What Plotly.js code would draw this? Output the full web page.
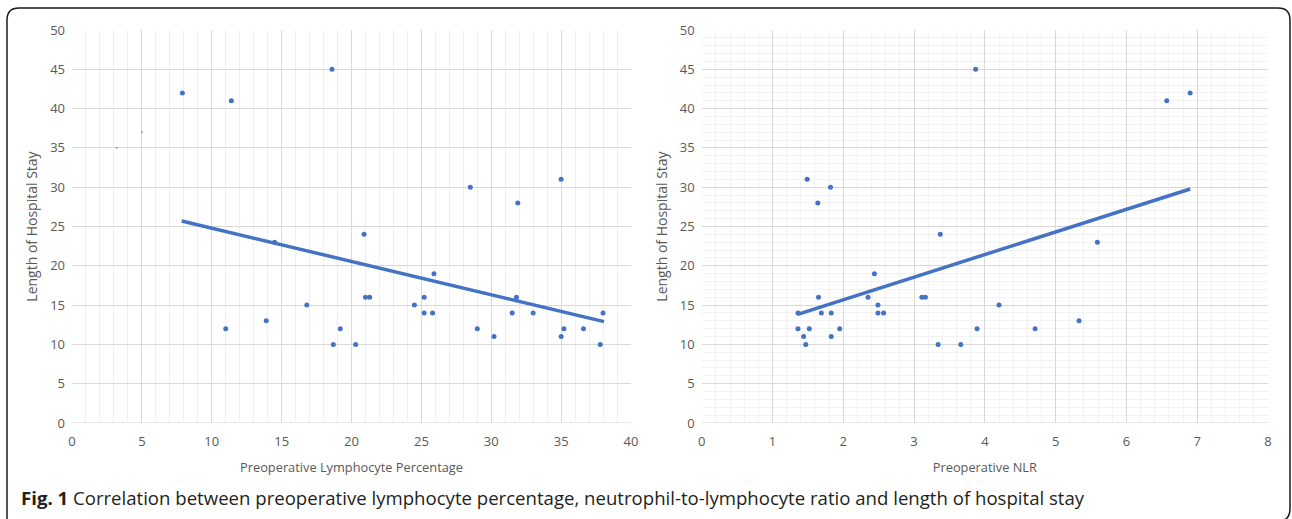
<!DOCTYPE html>
<html>
<head>
<meta charset="utf-8">
<script src="https://cdn.plot.ly/plotly-3.0.1.min.js"></script>
<style>html,body{margin:0;padding:0;background:#fff;}#chart{width:1292px;height:519px;}</style>
</head>
<body>
<div id="chart"></div>
<script>
// Left panel: preoperative lymphocyte percentage vs length of stay
const lymphX = [7.9, 11.4, 18.6, 14.5, 11.0, 13.9, 16.8, 19.2, 18.7, 20.3, 31.9, 20.9, 25.9, 21.0, 21.3, 25.2, 24.5, 25.2, 25.8, 29.0, 30.2, 31.8, 31.5, 33.0, 35.0, 35.2, 36.6, 37.8, 38.0, 28.5, 35.0];
const lymphY = [42, 41, 45, 23, 12, 13, 15, 12, 10, 10, 28, 24, 19, 16, 16, 16, 15, 14, 14, 12, 11, 16, 14, 14, 11, 12, 12, 10, 14, 30, 31];
const lymphFaintX = [3.2, 5.0];
const lymphFaintY = [35, 37];
const lymphTrendX = [7.85, 38.07];
const lymphTrendY = [25.7, 12.9];

// Right panel: preoperative NLR vs length of stay
const nlrX = [1.49, 1.64, 1.82, 3.37, 2.44, 1.65, 2.35, 3.11, 3.16, 2.49, 2.49, 2.57, 1.69, 1.83, 1.36, 1.36, 1.52, 1.95, 1.44, 1.83, 1.47, 3.34, 3.87, 6.57, 6.90, 5.59, 4.20, 5.33, 3.89, 4.71, 3.66];
const nlrY = [31, 28, 30, 24, 19, 16, 16, 16, 16, 15, 14, 14, 14, 14, 14, 12, 12, 12, 11, 11, 10, 10, 45, 41, 42, 23, 15, 13, 12, 12, 10];
const nlrTrendX = [1.356, 6.90];
const nlrTrendY = [13.83, 29.77];

const leftXTicks = [0, 5, 10, 15, 20, 25, 30, 35, 40];
const rightXTicks = [0, 1, 2, 3, 4, 5, 6, 7, 8];
const yTicks = [0, 5, 10, 15, 20, 25, 30, 35, 40, 45, 50];

const xTitleLeft = 'Preoperative Lymphocyte Percentage';
const xTitleRight = 'Preoperative NLR';
const yTitle = 'Length of Hospital Stay';
const caption = '<b>Fig. 1</b> Correlation between preoperative lymphocyte percentage, neutrophil-to-lymphocyte ratio and length of hospital stay';

const blue = '#4472C4';
const tickFont = {family: 'Open Sans, sans-serif', size: 13, color: '#595959'};
const xTitleFont = {family: 'Open Sans, sans-serif', size: 12.8, color: '#595959'};
const yTitleFont = {family: 'Open Sans, sans-serif', size: 14, color: '#595959'};
const W = 1292, H = 519;
const px = v => v / W;
const py = v => 1 - v / H;

const traces = [
  {x: lymphX, y: lymphY, type: 'scatter', mode: 'markers', marker: {color: blue, size: 5}, xaxis: 'x', yaxis: 'y'},
  {x: lymphFaintX, y: lymphFaintY, type: 'scatter', mode: 'markers', marker: {color: '#999999', size: 2}, xaxis: 'x', yaxis: 'y'},
  {x: lymphTrendX, y: lymphTrendY, type: 'scatter', mode: 'lines', line: {color: blue, width: 3.5}, xaxis: 'x', yaxis: 'y'},
  {x: nlrX, y: nlrY, type: 'scatter', mode: 'markers', marker: {color: blue, size: 5}, xaxis: 'x2', yaxis: 'y2'},
  {x: nlrTrendX, y: nlrTrendY, type: 'scatter', mode: 'lines', line: {color: blue, width: 3.5}, xaxis: 'x2', yaxis: 'y2'}
];

const axBase = {
  showline: false, zeroline: false, ticks: '', tickfont: tickFont,
  gridcolor: '#d9d9d9', gridwidth: 1, fixedrange: true
};

const layout = {
  width: W, height: H,
  margin: {l: 0, r: 0, t: 0, b: 0},
  paper_bgcolor: '#ffffff', plot_bgcolor: '#ffffff',
  showlegend: false,
  xaxis: Object.assign({}, axBase, {
    domain: [px(72), px(631)], range: [0, 40], tickvals: leftXTicks, anchor: 'y',
    ticklabelstandoff: 9,
    minor: {dtick: 1, showgrid: true, gridcolor: '#efefef', gridwidth: 1},
    title: {text: xTitleLeft, font: xTitleFont, standoff: 14}
  }),
  yaxis: Object.assign({}, axBase, {
    domain: [py(423), py(30)], range: [0, 50], tickvals: yTicks, anchor: 'x',
    ticklabelstandoff: 6,
    title: {text: yTitle, font: yTitleFont, standoff: 9}
  }),
  xaxis2: Object.assign({}, axBase, {
    domain: [px(701.7), px(1268)], range: [0, 8], tickvals: rightXTicks, anchor: 'y2',
    ticklabelstandoff: 9,
    minor: {dtick: 0.2, showgrid: true, gridcolor: '#f2f2f2', gridwidth: 1},
    title: {text: xTitleRight, font: xTitleFont, standoff: 14}
  }),
  yaxis2: Object.assign({}, axBase, {
    domain: [py(423), py(30)], range: [0, 50], tickvals: yTicks, anchor: 'x2',
    ticklabelstandoff: 6,
    minor: {dtick: 1, showgrid: true, gridcolor: '#f2f2f2', gridwidth: 1},
    title: {text: yTitle, font: yTitleFont, standoff: 8}
  }),
  shapes: [
    {type: 'line', xref: 'x', yref: 'y', x0: 0, x1: 40, y0: 0, y1: 0, line: {color: '#d0d0d0', width: 1}, layer: 'below'},
    {type: 'line', xref: 'x2', yref: 'y2', x0: 0, x1: 8, y0: 0, y1: 0, line: {color: '#d0d0d0', width: 1}, layer: 'below'},
    {type: 'path', xref: 'paper', yref: 'paper',
     path: 'M ' + px(7) + ',' + py(519) +
           ' L ' + px(7) + ',' + py(20) +
           ' Q ' + px(7) + ',' + py(8) + ' ' + px(19) + ',' + py(8) +
           ' L ' + px(1278) + ',' + py(8) +
           ' Q ' + px(1290) + ',' + py(8) + ' ' + px(1290) + ',' + py(20) +
           ' L ' + px(1290) + ',' + py(508) +
           ' Q ' + px(1290) + ',' + py(519) + ' ' + px(1283) + ',' + py(520),
     line: {color: '#1a1a1a', width: 1.5}}
  ],
  annotations: [
    {text: caption, xref: 'paper', yref: 'paper', x: px(19), y: py(497), xanchor: 'left', yanchor: 'middle',
     showarrow: false, font: {family: 'Open Sans, sans-serif', size: 18.6, color: '#231f20'}}
  ]
};

Plotly.newPlot('chart', traces, layout, {displayModeBar: false, staticPlot: true});
</script>
</body>
</html>
